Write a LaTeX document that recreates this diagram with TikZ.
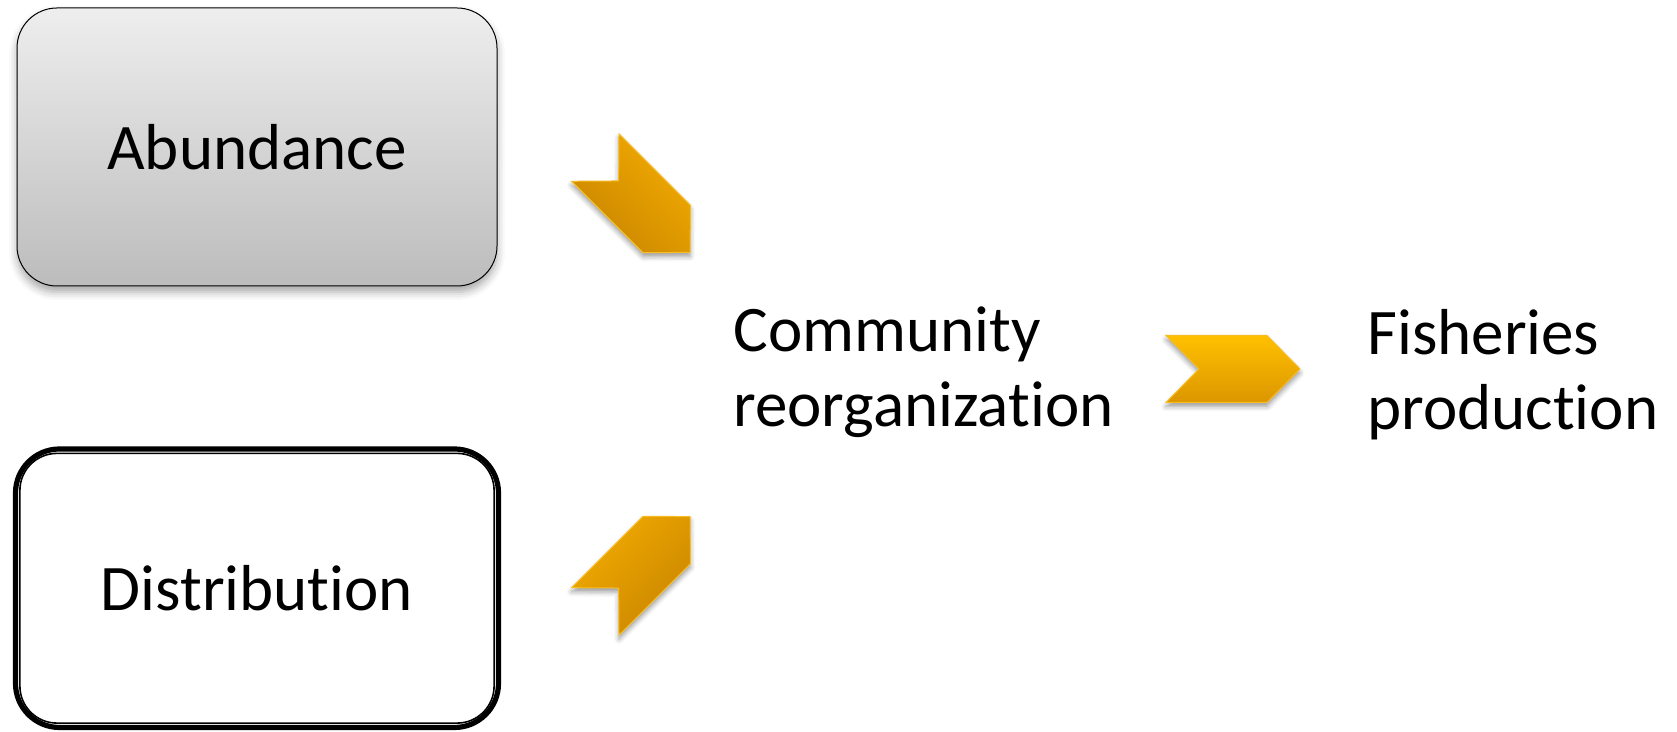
\documentclass[tikz,border=0pt]{standalone}
\usepackage{fontspec}
\setmainfont[Ligatures=NoCommon]{Carlito}
\usetikzlibrary{shadows.blur}
\definecolor{boxtop}{HTML}{EEEEEE}
\definecolor{boxbot}{HTML}{BCBCBC}
\definecolor{chevhi}{HTML}{F2AA00}
\definecolor{chevlo}{HTML}{C98600}
\definecolor{arrhi}{HTML}{FFC000}
\definecolor{arrlo}{HTML}{DC9600}
\definecolor{chevline}{HTML}{F7BD20}
\begin{document}
\begin{tikzpicture}
	[x=0.5pt,y=0.5pt,every node/.style={font=\fontsize{32.5}{37.5}\selectfont,inner sep=0pt},
	abox/.style={rounded corners=20pt,draw,line width=0.5pt,top color=boxtop,bottom color=boxbot,
		minimum width=240pt,minimum height=139pt,
		blur shadow={shadow xshift=0pt,shadow yshift=-3pt,shadow blur radius=4pt,shadow opacity=35}},
	dbox/.style={rounded corners=22pt,draw,line width=2.6pt,fill=white,minimum width=241.5pt,minimum height=139.25pt},
	chev/.style={draw=chevline,line width=0.5pt,
		blur shadow={shadow xshift=0pt,shadow yshift=-2pt,shadow blur radius=2.5pt,shadow opacity=40}}]
	\useasboundingbox (0,0) rectangle (1677,732);
	\node[abox] (abund) at (257,585) {Abundance};
	\node[dbox] (distr) at (257,143.75) {Distribution};
	\draw[line width=0.8pt,rounded corners=18.5pt] ([shift={(7,7)}]distr.south west) rectangle ([shift={(-7,-7)}]distr.north east);
	
	\node[anchor=base west,align=left] (comm) at (733,305) {Community\\reorganization};
	\node[anchor=base west,align=left] (fish) at (1367,302) {Fisheries\\production};
	
	\coordinate (ca) at (642.7,527);
	\coordinate (cd) at (642.7,168);
	\coordinate (cr) at (1233,363);
	\foreach \c/\r/\hi/\lo in {ca/-45/chevhi/chevlo,cd/45/chevhi/chevlo,cr/0/arrhi/arrlo}
	\path[chev,shift={(\c)},rotate=\r,top color=\hi,bottom color=\lo,shading angle=\r]
		(-67,33.5) -- (34,33.5) -- (67,0) -- (34,-33.5) -- (-67,-33.5) -- (-34,0) -- cycle;
\end{tikzpicture}
\end{document}
